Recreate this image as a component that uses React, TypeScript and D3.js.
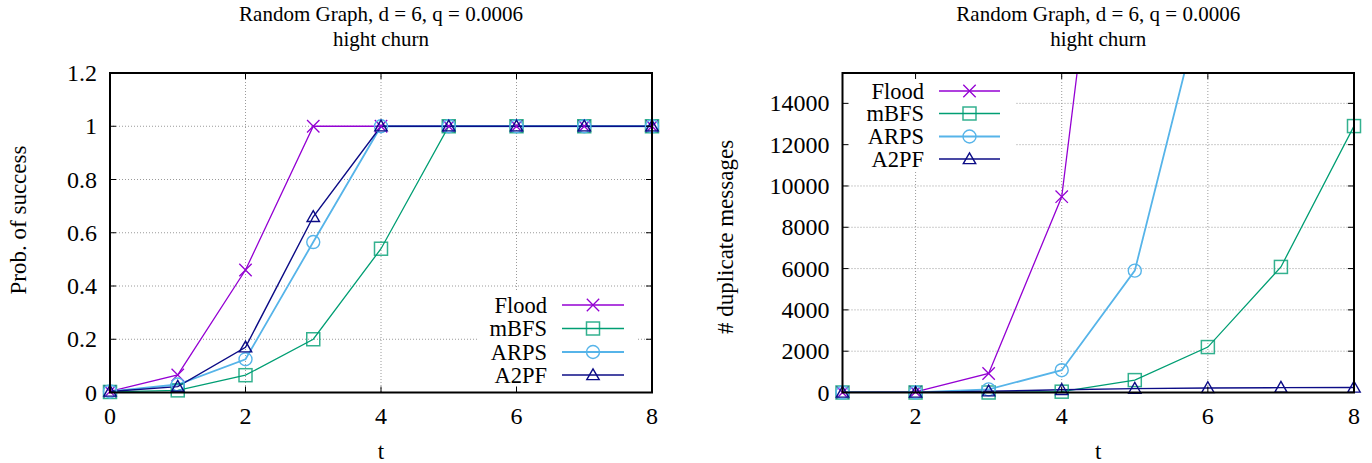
import * as d3 from "d3";

// left panel: probability of success vs t
const tProb = [0, 1, 2, 3, 4, 5, 6, 7, 8];
const floodProb = [0.004, 0.066, 0.46, 1, 1, 1, 1, 1, 1];
const mbfsProb = [0.002, 0.008, 0.065, 0.2, 0.54, 1, 1, 1, 1];
const arpsProb = [0.004, 0.03, 0.125, 0.565, 1, 1, 1, 1, 1];
const a2pfProb = [0.004, 0.022, 0.17, 0.66, 1, 1, 1, 1, 1];
const probTicksY = [0, 0.2, 0.4, 0.6, 0.8, 1, 1.2];
const probTicksX = [0, 2, 4, 6, 8];

// right panel: duplicate messages vs t (t = 1..8)
const tDup = [1, 2, 3, 4, 5, 6, 7, 8];
const floodDup = [0, 30, 920, 9480, 38000];
const mbfsDup = [0, 0, 0, 40, 600, 2200, 6080, 12900];
const arpsDup = [0, 0, 150, 1080, 5900, 20000];
const a2pfDup = [0, 0, 60, 130, 190, 220, 235, 245];
const dupTicksY = [0, 2000, 4000, 6000, 8000, 10000, 12000, 14000];
const dupTicksX = [2, 4, 6, 8];

const seriesNames = ["Flood", "mBFS", "ARPS", "A2PF"];
const titleLines = ["Random Graph, d = 6, q = 0.0006", "hight churn"];

const COLORS: Record<string, string> = {
  Flood: "#9400d3",
  mBFS: "#009e73",
  ARPS: "#56b4e9",
  A2PF: "#0c0c86",
};
const WIDTHS: Record<string, number> = { Flood: 1.3, mBFS: 1.3, ARPS: 1.8, A2PF: 1.4 };
const FONT = "'Liberation Serif', 'DejaVu Serif', 'Noto Serif', Times, serif";

type Pt = { x: number; y: number };

function Label(props: React.SVGProps<SVGTextElement>) {
  return <text fontFamily={FONT} fill="#000" {...props} />;
}

function Marker({ name, cx, cy }: { name: string; cx: number; cy: number }) {
  const c = COLORS[name];
  if (name === "Flood") {
    const r = 6.2;
    return (
      <path
        d={`M${cx - r},${cy - r}L${cx + r},${cy + r}M${cx - r},${cy + r}L${cx + r},${cy - r}`}
        stroke={c}
        strokeWidth={1.3}
        fill="none"
      />
    );
  }
  if (name === "mBFS") {
    return (
      <rect x={cx - 6.5} y={cy - 6.5} width={13} height={13} fill="none" stroke={c} strokeOpacity={0.8} strokeWidth={1.5} />
    );
  }
  if (name === "ARPS") {
    return <circle cx={cx} cy={cy} r={6.5} fill="none" stroke={c} strokeWidth={1.4} />;
  }
  const s = 6.2;
  return (
    <path
      d={`M${cx},${cy - s}L${cx + s},${cy + s * 0.75}L${cx - s},${cy + s * 0.75}Z`}
      fill="none"
      stroke={c}
      strokeWidth={1.4}
    />
  );
}

interface PanelProps {
  id: string;
  box: { left: number; right: number; top: number; bottom: number };
  xDomain: [number, number];
  yDomain: [number, number];
  xs: number[];
  series: Record<string, number[]>;
  xTicks: number[];
  yTicks: number[];
  yFormat: (v: number) => string;
  yLabel: string;
  yLabelPos: { x: number; y: number };
  legend: { textRight: number; lineX0: number; lineX1: number; rows: number[]; bg: [number, number, number, number] };
}

function Panel(p: PanelProps) {
  const { box } = p;
  const x = d3.scaleLinear().domain(p.xDomain).range([box.left, box.right]);
  const y = d3.scaleLinear().domain(p.yDomain).range([box.bottom, box.top]);
  const line = d3
    .line<Pt>()
    .x((d) => x(d.x))
    .y((d) => y(d.y));
  const cx = (box.left + box.right) / 2;
  const tick = 6;

  const pts = (name: string): Pt[] => p.series[name].map((v, i) => ({ x: p.xs[i], y: v }));

  return (
    <g>
      <defs>
        <clipPath id={`clip-${p.id}`}>
          <rect x={box.left} y={box.top} width={box.right - box.left} height={box.bottom - box.top} />
        </clipPath>
      </defs>
      {/* title */}
      {titleLines.map((t, i) => (
        <Label key={t} x={cx} y={21 + i * 24.5} textAnchor="middle" fontSize={21}>
          {t}
        </Label>
      ))}
      {/* grid */}
      {p.yTicks
        .filter((v) => v !== p.yDomain[0] && y(v) > box.top + 1)
        .map((v) => (
          <line key={`gy${v}`} x1={box.left} x2={box.right} y1={y(v)} y2={y(v)} stroke="#9a9a9a" strokeDasharray="1,2" />
        ))}
      {p.xTicks
        .filter((v) => x(v) < box.right - 1 && x(v) > box.left + 1)
        .map((v) => (
          <line key={`gx${v}`} x1={x(v)} x2={x(v)} y1={box.top} y2={box.bottom} stroke="#9a9a9a" strokeDasharray="1,2" />
        ))}
      {/* legend background */}
      <rect x={p.legend.bg[0]} y={p.legend.bg[1]} width={p.legend.bg[2]} height={p.legend.bg[3]} fill="#fff" />
      {/* lines */}
      <g clipPath={`url(#clip-${p.id})`}>
        {seriesNames.map((n) => (
          <path key={n} d={line(pts(n)) ?? ""} fill="none" stroke={COLORS[n]} strokeWidth={WIDTHS[n]} />
        ))}
      </g>
      {/* markers */}
      {seriesNames.map((n) => (
        <g key={n}>
          {pts(n)
            .filter((d) => d.y <= p.yDomain[1])
            .map((d) => (
              <Marker key={d.x} name={n} cx={x(d.x)} cy={y(d.y)} />
            ))}
        </g>
      ))}
      {/* legend */}
      {seriesNames.map((n, i) => {
        const ry = p.legend.rows[i];
        return (
          <g key={n}>
            <Label x={p.legend.textRight} y={ry + 7.5} textAnchor="end" fontSize={22.5}>
              {n}
            </Label>
            <line x1={p.legend.lineX0} x2={p.legend.lineX1} y1={ry} y2={ry} stroke={COLORS[n]} strokeWidth={WIDTHS[n] + 0.3} />
            <Marker name={n} cx={(p.legend.lineX0 + p.legend.lineX1) / 2} cy={ry} />
          </g>
        );
      })}
      {/* ticks */}
      {p.yTicks.map((v) => (
        <g key={`ty${v}`}>
          <line x1={box.left} x2={box.left + tick} y1={y(v)} y2={y(v)} stroke="#000" />
          <line x1={box.right} x2={box.right - tick} y1={y(v)} y2={y(v)} stroke="#000" />
          <Label x={box.left - 13} y={y(v) + 8} textAnchor="end" fontSize={24}>
            {p.yFormat(v)}
          </Label>
        </g>
      ))}
      {p.xTicks.map((v) => (
        <g key={`tx${v}`}>
          <line x1={x(v)} x2={x(v)} y1={box.bottom} y2={box.bottom - tick} stroke="#000" />
          <line x1={x(v)} x2={x(v)} y1={box.top} y2={box.top + tick} stroke="#000" />
          <Label x={x(v)} y={box.bottom + 31.5} textAnchor="middle" fontSize={24}>
            {v}
          </Label>
        </g>
      ))}
      {/* border */}
      <rect x={box.left} y={box.top} width={box.right - box.left} height={box.bottom - box.top} fill="none" stroke="#000" strokeWidth={2} />
      {/* axis labels */}
      <Label x={cx} y={459} textAnchor="middle" fontSize={23}>
        t
      </Label>
      <Label
        transform={`translate(${p.yLabelPos.x},${p.yLabelPos.y}) rotate(-90)`}
        textAnchor="middle"
        fontSize={23}
      >
        {p.yLabel}
      </Label>
    </g>
  );
}

export default function App() {
  return (
    <div style={{ position: "absolute", left: 0, top: 0 }}>
      <svg width={1372} height={463} style={{ display: "block", background: "#fff" }}>
        <Panel
          id="prob"
          box={{ left: 110, right: 652, top: 73, bottom: 392.5 }}
          xDomain={[0, 8]}
          yDomain={[0, 1.2]}
          xs={tProb}
          series={{ Flood: floodProb, mBFS: mbfsProb, ARPS: arpsProb, A2PF: a2pfProb }}
          xTicks={probTicksX}
          yTicks={probTicksY}
          yFormat={(v) => d3.format("~g")(v)}
          yLabel="Prob. of success"
          yLabelPos={{ x: 26, y: 220 }}
          legend={{ textRight: 547, lineX0: 562, lineX1: 624, rows: [305, 328.5, 352, 375], bg: [478, 290, 159, 97] }}
        />
        <Panel
          id="dup"
          box={{ left: 842.5, right: 1354, top: 73, bottom: 392.5 }}
          xDomain={[1, 8]}
          yDomain={[0, 15470]}
          xs={tDup}
          series={{ Flood: floodDup, mBFS: mbfsDup, ARPS: arpsDup, A2PF: a2pfDup }}
          xTicks={dupTicksX}
          yTicks={dupTicksY}
          yFormat={(v) => String(v)}
          yLabel="# duplicate messages"
          yLabelPos={{ x: 733, y: 237 }}
          legend={{ textRight: 924, lineX0: 939, lineX1: 1000, rows: [91, 113.5, 136.5, 159], bg: [844, 74, 172, 98] }}
        />
      </svg>
    </div>
  );
}
